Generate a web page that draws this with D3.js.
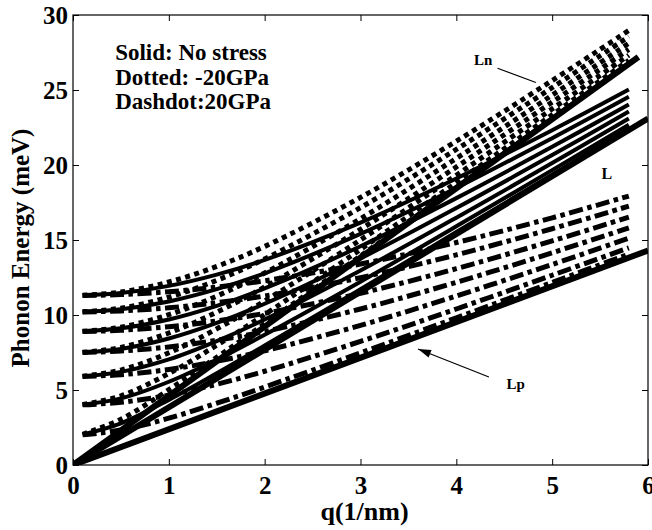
<!DOCTYPE html>
<html>
<head>
<meta charset="utf-8">
<script src="https://cdn.jsdelivr.net/npm/d3@7/dist/d3.min.js"></script>
<style>
  body { margin: 0; background: #fff; }
  text { font-family: "Liberation Serif", "Times New Roman", serif; font-weight: bold; fill: #000; }
</style>
</head>
<body>
<svg id="chart" width="652" height="530"></svg>
<script>
const qPoints = [0.1, 0.5, 1, 1.5, 2, 3, 4, 5, 5.8];

// no stress (solid)
const solidCurves = [
  [2.04, 2.78, 4.34, 6.11, 7.96, 11.72, 15.53, 19.35, 22.42],
  [4.02, 4.44, 5.55, 7.02, 8.68, 12.22, 15.91, 19.66, 22.68],
  [5.91, 6.21, 7.04, 8.26, 9.70, 12.97, 16.49, 20.13, 23.10],
  [7.51, 7.74, 8.43, 9.47, 10.75, 13.77, 17.13, 20.66, 23.56],
  [8.91, 9.11, 9.70, 10.61, 11.77, 14.58, 17.79, 21.21, 24.04],
  [10.21, 10.38, 10.90, 11.72, 12.78, 15.41, 18.47, 21.79, 24.55],
  [11.31, 11.46, 11.94, 12.69, 13.67, 16.16, 19.10, 22.32, 25.03]
];

// -20 GPa (dotted)
const dottedCurves = [
  [2.05, 3.05, 5.02, 7.18, 9.41, 13.94, 18.51, 23.09, 26.75],
  [4.03, 4.61, 6.10, 7.98, 10.03, 14.37, 18.83, 23.35, 26.98],
  [5.92, 6.33, 7.48, 9.08, 10.93, 15.01, 19.32, 23.74, 27.32],
  [7.51, 7.84, 8.80, 10.19, 11.87, 15.71, 19.87, 24.19, 27.71],
  [8.91, 9.19, 10.02, 11.26, 12.80, 16.42, 20.44, 24.66, 28.12],
  [10.21, 10.46, 11.19, 12.31, 13.74, 17.16, 21.04, 25.16, 28.56],
  [11.31, 11.53, 12.20, 13.24, 14.57, 17.84, 21.59, 25.63, 28.97]
];

// +20 GPa (dashdot)
const dashdotCurves = [
  [2.01, 2.33, 3.12, 4.12, 5.20, 7.47, 9.81, 12.17, 14.06],
  [4.01, 4.18, 4.66, 5.38, 6.25, 8.24, 10.40, 12.65, 14.48],
  [5.90, 6.02, 6.37, 6.91, 7.61, 9.31, 11.27, 13.37, 15.12],
  [7.50, 7.60, 7.87, 8.32, 8.90, 10.40, 12.18, 14.15, 15.81],
  [8.90, 8.98, 9.22, 9.60, 10.11, 11.45, 13.09, 14.94, 16.52],
  [10.20, 10.27, 10.48, 10.82, 11.27, 12.49, 14.01, 15.75, 17.26],
  [11.30, 11.36, 11.55, 11.86, 12.28, 13.40, 14.83, 16.48, 17.93]
];

// straight sound lines from the origin
const lineNames = ["Ln", "L", "Lp"];
const lineEndQ = [5.9, 6, 6];
const lineEndE = [27.2, 23.1, 14.3];

const xTicks = [0, 1, 2, 3, 4, 5, 6];
const yTicks = [0, 5, 10, 15, 20, 25, 30];
const legendLines = ["Solid: No stress", "Dotted: -20GPa", "Dashdot:20GPa"];

const margin = { top: 15, right: 4, bottom: 65, left: 73 };
const svg = d3.select("#chart");
const width = +svg.attr("width") - margin.left - margin.right;
const height = +svg.attr("height") - margin.top - margin.bottom;

const x = d3.scaleLinear().domain([0, 6]).range([0, width]);
const y = d3.scaleLinear().domain([0, 30]).range([height, 0]);

const g = svg.append("g").attr("transform", `translate(${margin.left},${margin.top})`);

g.append("clipPath").attr("id", "plotClip")
  .append("rect").attr("width", width).attr("height", height);

const plot = g.append("g").attr("clip-path", "url(#plotClip)");

const line = d3.line()
  .x(d => x(d[0]))
  .y(d => y(d[1]))
  .curve(d3.curveCatmullRom);

function drawFamily(curves, dash, sw) {
  plot.append("g").selectAll("path")
    .data(curves)
    .join("path")
    .attr("d", vals => line(vals.map((v, i) => [qPoints[i], v])))
    .attr("fill", "none")
    .attr("stroke", "#000")
    .attr("stroke-width", sw)
    .attr("stroke-dasharray", dash);
}

drawFamily(solidCurves, null, 4);
drawFamily(dottedCurves, "5,4.5", 5);
drawFamily(dashdotCurves, "14,4.5,4.5,4.5", 5);

plot.append("g").selectAll("path")
  .data(lineNames)
  .join("path")
  .attr("d", (d, i) => d3.line()([[x(0), y(0)], [x(lineEndQ[i]), y(lineEndE[i])]]))
  .attr("stroke", "#000")
  .attr("stroke-width", 6)
  .attr("fill", "none");

// axes (MATLAB style box with inward ticks)
const tickLen = 6;
g.append("g").attr("transform", `translate(0,${height})`)
  .call(d3.axisBottom(x).tickValues(xTicks).tickSize(-tickLen).tickPadding(11).tickFormat(d3.format("d")))
  .call(a => a.select(".domain").remove());
g.append("g").call(d3.axisTop(x).tickValues(xTicks).tickSize(-tickLen).tickFormat(""))
  .call(a => a.select(".domain").remove());
g.append("g")
  .call(d3.axisLeft(y).tickValues(yTicks).tickSize(-tickLen).tickPadding(5).tickFormat(d3.format("d")))
  .call(a => a.select(".domain").remove());
g.append("g").attr("transform", `translate(${width},0)`)
  .call(d3.axisRight(y).tickValues(yTicks).tickSize(-tickLen).tickFormat(""))
  .call(a => a.select(".domain").remove());

g.selectAll(".tick line").attr("stroke", "#000");
g.selectAll(".tick text")
  .style("font-family", '"Liberation Serif", serif')
  .style("font-weight", "bold")
  .style("font-size", "25px")
  .attr("fill", "#000");

g.append("rect")
  .attr("width", width).attr("height", height)
  .attr("fill", "none").attr("stroke", "#000").attr("stroke-width", 1.2);

// axis titles
g.append("text")
  .attr("x", width / 2 + 4)
  .attr("y", height + 55)
  .attr("text-anchor", "middle")
  .style("font-size", "26px")
  .text("q(1/nm)");

g.append("text")
  .attr("transform", "rotate(-90)")
  .attr("x", -height / 2 - 8)
  .attr("y", -44)
  .attr("text-anchor", "middle")
  .style("font-size", "25px")
  .text("Phonon Energy (meV)");

// legend text
g.append("g").selectAll("text")
  .data(legendLines)
  .join("text")
  .attr("x", x(0.44))
  .attr("y", (d, i) => y(27) + i * 24.5)
  .style("font-size", "23px")
  .text(d => d);

// annotations
g.append("text").attr("x", x(4.28)).attr("y", y(26.7))
  .attr("text-anchor", "middle").style("font-size", "15px").text("Ln");
g.append("line")
  .attr("x1", x(4.43)).attr("y1", y(26.45))
  .attr("x2", x(4.83)).attr("y2", y(25.5))
  .attr("stroke", "#000").attr("stroke-width", 1.2);

g.append("text").attr("x", x(5.57)).attr("y", y(19.1))
  .attr("text-anchor", "middle").style("font-size", "16px").text("L");

g.append("text").attr("x", x(4.62)).attr("y", y(5.1))
  .attr("text-anchor", "middle").style("font-size", "15px").text("Lp");

const ax0 = [x(4.34), y(5.87)];
const ax1 = [x(3.6), y(7.73)];
g.append("line")
  .attr("x1", ax0[0]).attr("y1", ax0[1])
  .attr("x2", ax1[0]).attr("y2", ax1[1])
  .attr("stroke", "#000").attr("stroke-width", 1.2);
const ang = Math.atan2(ax1[1] - ax0[1], ax1[0] - ax0[0]);
const headLen = 13, headW = 4;
const back = [ax1[0] - headLen * Math.cos(ang), ax1[1] - headLen * Math.sin(ang)];
g.append("path")
  .attr("d", d3.line()([
    ax1,
    [back[0] + headW * Math.sin(ang), back[1] - headW * Math.cos(ang)],
    [back[0] - headW * Math.sin(ang), back[1] + headW * Math.cos(ang)]
  ]) + "Z")
  .attr("fill", "#000");
</script>
</body>
</html>
